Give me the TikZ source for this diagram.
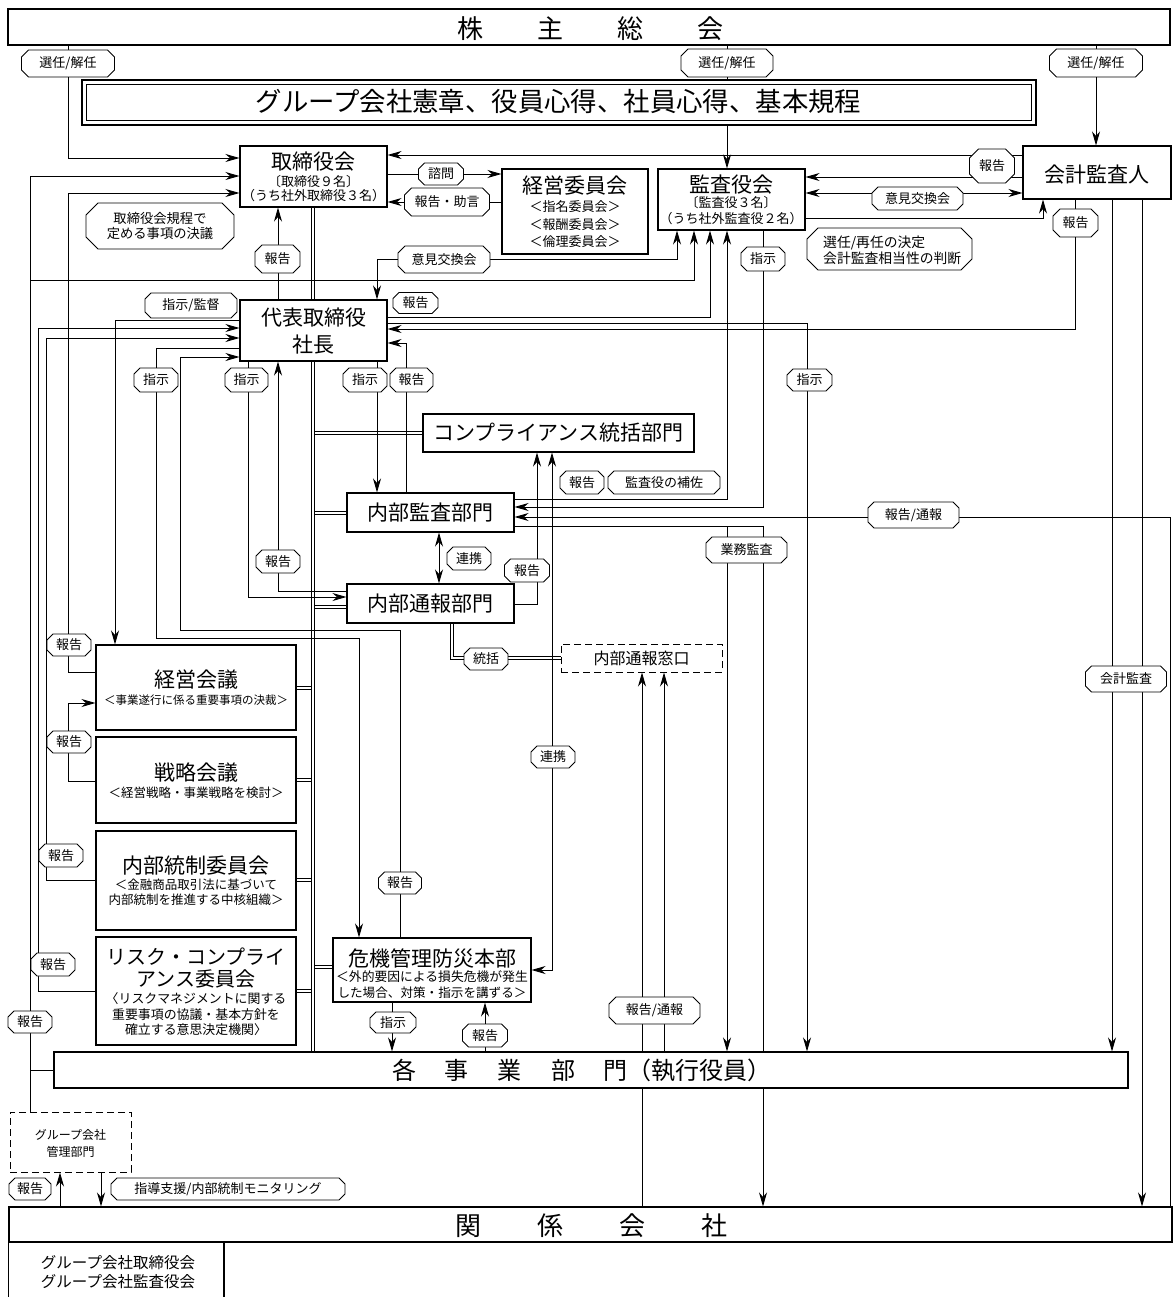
\documentclass[tikz,border=0pt]{standalone}
\usepackage{fontspec}
\setmainfont{Noto Sans CJK JP}
\usetikzlibrary{arrows.meta}
\pgfdeclarelayer{bg}
\pgfsetlayers{bg,main}
\newcommand\fs[1]{\fontsize{#1}{#1}\selectfont}
\tikzset{
  box/.style={draw, fill=white, line width=1.1pt, inner sep=0pt},
  dbox/.style={draw, fill=white, line width=1pt, dash pattern=on 7pt off 4pt, inner sep=0pt},
  ln/.style={line width=0.9pt},
  arr/.style={line width=0.9pt, -{Stealth[length=14pt,width=8pt,inset=4.5pt]}},
  arrb/.style={line width=0.9pt, {Stealth[length=14pt,width=8pt,inset=4.5pt]}-{Stealth[length=14pt,width=8pt,inset=4.5pt]}},
  dbl/.style={line width=1pt, double=white, double distance=2pt},
  txt/.style={inner sep=0pt},
  lblline/.style={draw, fill=white, line width=0.9pt},
  lbltxt/.style={inner sep=0pt, font=\fs{13}},
}
% octagon: [chamfer]{x}{y}{w}{h}
\newcommand\oct[5][6]{\filldraw[lblline] ({#2-#4/2+#1},{#3-#5/2}) -- ({#2+#4/2-#1},{#3-#5/2}) -- ({#2+#4/2},{#3-#5/2+#1}) -- ({#2+#4/2},{#3+#5/2-#1}) -- ({#2+#4/2-#1},{#3+#5/2}) -- ({#2-#4/2+#1},{#3+#5/2}) -- ({#2-#4/2},{#3+#5/2-#1}) -- ({#2-#4/2},{#3-#5/2+#1}) -- cycle;}
% label: [chamfer]{name}{x}{y}{w}{h}{text}
\newcommand\lab[7][6]{\oct[#1]{#3}{#4}{#5}{#6}\node[lbltxt] (#2) at (#3,#4) {#7};}
\begin{document}
\begin{tikzpicture}[x=1pt,y=-1pt]
\useasboundingbox (0,0) rectangle (1173,1297);
\begin{pgfonlayer}{bg}
\fill[white] (0,0) rectangle (1173,1297);
\end{pgfonlayer}
% ---------- boxes ----------
\node[box, minimum width=1162pt, minimum height=36pt] (kabu) at (589,27) {};
\node[box, minimum width=954pt, minimum height=45pt] (kitei) at (559,102.5) {};
\draw[line width=1.1pt] ([shift={(5,5)}]kitei.north west) rectangle ([shift={(-5,-5)}]kitei.south east);
\node[box, minimum width=147pt, minimum height=61pt] (tori) at (313.5,176.5) {};
\node[box, minimum width=146pt, minimum height=85pt] (keiei) at (575,211.5) {};
\node[box, minimum width=147pt, minimum height=61pt] (kansa) at (731.5,199.5) {};
\node[box, minimum width=148pt, minimum height=53pt] (kaikei) at (1097,172.5) {};
\node[box, minimum width=147pt, minimum height=61pt] (daihyo) at (313.5,330.5) {};
\node[box, minimum width=271pt, minimum height=38pt] (comp) at (558.5,433) {};
\node[box, minimum width=167pt, minimum height=39pt] (naibu) at (430.5,512.5) {};
\node[box, minimum width=167pt, minimum height=39pt] (tsuho) at (430.5,603.5) {};
\node[dbox, minimum width=161pt, minimum height=28pt] (madoguchi) at (641.5,658) {};
\node[box, minimum width=200pt, minimum height=85pt] (keieikaigi) at (196,687.5) {};
\node[box, minimum width=200pt, minimum height=86pt] (senryaku) at (196,780) {};
\node[box, minimum width=200pt, minimum height=99pt] (naiseitou) at (196,880.5) {};
\node[box, minimum width=200pt, minimum height=108pt] (risk) at (196,991) {};
\node[box, minimum width=198pt, minimum height=64pt] (kiki) at (432,970) {};
\node[box, minimum width=1074pt, minimum height=36pt] (jigyo) at (591,1070) {};
\node[dbox, minimum width=121pt, minimum height=60pt] (group) at (70.5,1142) {};
\node[box, minimum width=1163pt, minimum height=35pt] (kankei) at (590.5,1224.5) {};
\draw[line width=1.1pt] (kankei.south west) -- (kankei.south west |- 0,1297);
\draw[line width=1.1pt] (kankei.south west -| 224,0) -- (224,1297);
% ---------- connectors (behind boxes) ----------
\begin{pgfonlayer}{bg}
% double bus from 取締役会 to 各事業部門
\draw[dbl] (tori.south -| 313,0) -- (daihyo.north -| 313,0);
\draw[dbl] (daihyo.south -| 313,0) -- (jigyo.north -| 313,0);
\draw[dbl] (315,433) -- (comp.west |- 0,433);
\draw[dbl] (315,513) -- (naibu.west |- 0,513);
\draw[dbl] (315,607) -- (tsuho.west |- 0,607);
\draw[dbl] (keieikaigi.east |- 0,688) -- (311,688);
\draw[dbl] (senryaku.east |- 0,780) -- (311,780);
\draw[dbl] (naiseitou.east |- 0,880) -- (311,880);
\draw[dbl] (risk.east |- 0,991) -- (311,991);
\draw[dbl] (315,967) -- (kiki.west |- 0,967);
\draw[dbl] (tsuho.south -| 452,0) |- (madoguchi.west);
% 選任/解任
\draw[arr] (kabu.south -| 68,0) |- (tori.west |- 0,158);
\draw[arr] (kabu.south -| 727,0) -- (kansa.north -| 727,0);
\draw[arr] (kabu.south -| 1096,0) -- (kaikei.north -| 1096,0);
% 会計監査人
\draw[arr] (kaikei.west |- 0,155) -- (tori.east |- 0,155);
\draw[arr] (kaikei.west |- 0,177) -- (kansa.east |- 0,177);
\draw[arrb] (kansa.east |- 0,193) -- (kaikei.west |- 0,193);
\draw[arr] (kansa.east |- 0,218) -| (kaikei.south -| 1043,0);
% 諮問 / 報告・助言
\draw[arr] (tori.east |- 0,174) -- (keiei.west |- 0,174);
\draw[arr] (keiei.west |- 0,202) -- (tori.east |- 0,202);
% 意見交換会
\draw[arrb] (daihyo.north -| 377,0) -- (377,259) -| (kansa.south -| 677,0);
% 報告 代表→取締役会
\draw[arr] (daihyo.north -| 278,0) -- (tori.south -| 278,0);
% far left bus
\draw[arr] (group.north -| 30,0) |- (tori.west |- 0,176);
\draw[arr] (30,280) -| (kansa.south -| 694,0);
\draw[ln] (30,1070) -- (jigyo.west |- 0,1070);
% 代表取締役 left
\draw[arr] (daihyo.west |- 0,320) -| (keieikaigi.north -| 115,0);
\draw[arr] (daihyo.west |- 0,348) -| (156,638) -| (kiki.north -| 359,0);
\draw[arr] (kiki.north -| 400.7,0) |- (180.6,630) |- (daihyo.west |- 0,357);
\draw[arr] (naiseitou.west |- 0,880) -| (46,338) -- (daihyo.west |- 0,338);
\draw[arr] (risk.west |- 0,991) -| (38,328) -- (daihyo.west |- 0,328);
\draw[arr] (keieikaigi.west |- 0,672) -| (68,193) -- (tori.west |- 0,193);
\draw[arr] (senryaku.west |- 0,781) -| (68,703) -- (keieikaigi.west |- 0,703);
% 代表取締役 bottom
\draw[arr] (daihyo.south -| 248,0) |- (tsuho.west |- 0,597);
\draw[arr] (tsuho.west |- 0,591) -| (daihyo.south -| 278,0);
\draw[arr] (daihyo.south -| 377,0) -- (naibu.north -| 377,0);
\draw[arr] (naibu.north -| 406,0) |- (daihyo.east |- 0,343);
% 代表取締役 right
\draw[arr] (daihyo.east |- 0,317) -| (kansa.south -| 710,0);
\draw[arr] (daihyo.east |- 0,323) -| (jigyo.north -| 807,0);
\draw[arr] (kaikei.south -| 1075,0) |- (daihyo.east |- 0,329);
% 内部監査部門 right
\draw[arr] (naibu.east |- 0,499) -| (kansa.south -| 727,0);
\draw[arr] (kansa.south -| 763,0) |- (naibu.east |- 0,507);
\draw[arr] (kankei.north -| 1170,0) |- (naibu.east |- 0,517);
\draw[arr] (naibu.east |- 0,526) -| (kankei.north -| 763,0);
\draw[arr] (727,526) -- (jigyo.north -| 727,0);
% 連携 / 報告
\draw[arrb] (naibu.south -| 439,0) -- (tsuho.north -| 439,0);
\draw[arr] (tsuho.east |- 0,604) -| (comp.south -| 537,0);
\draw[arrb] (kiki.east |- 0,970) -| (comp.south -| 552,0);
% 報告/通報 → 内部通報窓口
\draw[arr] (kankei.north -| 642,0) -- (madoguchi.south -| 642,0);
\draw[arr] (jigyo.north -| 664,0) -- (madoguchi.south -| 664,0);
% 会計監査
\draw[arr] (kaikei.south -| 1112,0) -- (jigyo.north -| 1112,0);
\draw[arr] (kaikei.south -| 1142,0) -- (kankei.north -| 1142,0);
% 危機管理 bottom
\draw[arr] (kiki.south -| 392,0) -- (jigyo.north -| 392,0);
\draw[arr] (jigyo.north -| 485,0) -- (kiki.south -| 485,0);
% グループ会社管理部門
\draw[arr] (kankei.north -| 60,0) -- (group.south -| 60,0);
\draw[arr] (group.south -| 101,0) -- (kankei.north -| 101,0);
\end{pgfonlayer}
% ---------- box texts ----------
\node[txt, font=\fs{26}] (kabuT) at (590.5,28.5) {株\hspace{54pt}主\hspace{54pt}総\hspace{54pt}会};
\node[txt, font=\fs{26.4}] (kiteiT) at (558.5,102) {グループ会社憲章、役員心得、社員心得、基本規程};
\node[txt, font=\fs{21}] (toriT1) at (313.5,162) {取締役会};
\node[txt, font=\fs{13}] (toriT2) at (313.5,181.5) {〔取締役９名〕};
\node[txt, font=\fs{13}] (toriT3) at (313.5,196) {（うち社外取締役３名）};
\node[txt, font=\fs{21}] (keieiT1) at (575,186) {経営委員会};
\node[txt, font=\fs{13}] (keieiT2) at (575,207) {＜指名委員会＞};
\node[txt, font=\fs{13}] (keieiT3) at (575,224.5) {＜報酬委員会＞};
\node[txt, font=\fs{13}] (keieiT4) at (575,242) {＜倫理委員会＞};
\node[txt, font=\fs{21}] (kansaT1) at (731,185) {監査役会};
\node[txt, font=\fs{13}] (kansaT2) at (731,202.5) {〔監査役３名〕};
\node[txt, font=\fs{13}] (kansaT3) at (731,219) {（うち社外監査役２名）};
\node[txt, font=\fs{21}] (kaikeiT) at (1097,175) {会計監査人};
\node[txt, font=\fs{21}] (daihyoT1) at (313.5,318) {代表取締役};
\node[txt, font=\fs{21}] (daihyoT2) at (313.5,345) {社長};
\node[txt, font=\fs{21}] (compT) at (558.5,433) {コンプライアンス統括部門};
\node[txt, font=\fs{21}] (naibuT) at (430.5,513) {内部監査部門};
\node[txt, font=\fs{21}] (tsuhoT) at (430.5,604) {内部通報部門};
\node[txt, font=\fs{16}] (madoT) at (641.5,658) {内部通報窓口};
\node[txt, font=\fs{21}] (kkT1) at (196,680) {経営会議};
\node[txt, font=\fs{11.5}] (kkT2) at (196,700.5) {＜事業遂行に係る重要事項の決裁＞};
\node[txt, font=\fs{21}] (senT1) at (196,773) {戦略会議};
\node[txt, font=\fs{12.5}] (senT2) at (196,793) {＜経営戦略・事業戦略を検討＞};
\node[txt, font=\fs{21}] (naiT1) at (196,866) {内部統制委員会};
\node[txt, font=\fs{12.5}] (naiT2) at (196,884.5) {＜金融商品取引法に基づいて};
\node[txt, font=\fs{12.5}] (naiT3) at (196,900) {内部統制を推進する中核組織＞};
\node[txt, font=\fs{20}] (riskT1) at (196,957) {リスク・コンプライ};
\node[txt, font=\fs{20}] (riskT2) at (196,979) {アンス委員会};
\node[txt, font=\fs{12.9}] (riskT3) at (196,998.5) {〈リスクマネジメントに関する};
\node[txt, font=\fs{12.9}] (riskT4) at (196,1014.5) {重要事項の協議・基本方針を};
\node[txt, font=\fs{12.9}] (riskT5) at (196,1030) {確立する意思決定機関〉};
\node[txt, font=\fs{21}] (kikiT1) at (432,958.5) {危機管理防災本部};
\node[txt, font=\fs{12.8}] (kikiT2) at (432,976.5) {＜外的要因による損失危機が発生};
\node[txt, font=\fs{12.6}] (kikiT3) at (432,993) {した場合、対策・指示を講ずる＞};
\node[txt, font=\fs{24}] (jigyoT) at (582,1070) {各\hspace{29pt}事\hspace{29pt}業\hspace{29pt}部\hspace{29pt}門（執行役員）};
\node[txt, font=\fs{12}] (groupT1) at (70.5,1135) {グループ会社};
\node[txt, font=\fs{12}] (groupT2) at (70.5,1152) {管理部門};
\node[txt, font=\fs{26}] (kankeiT) at (591.5,1226) {関\hspace{55.7pt}係\hspace{55.7pt}会\hspace{55.7pt}社};
\node[txt, font=\fs{15.5}] (cellT1) at (118,1263) {グループ会社取締役会};
\node[txt, font=\fs{15.5}] (cellT2) at (118,1282) {グループ会社監査役会};
% ---------- labels ----------
\lab[7]{Lsel1}{68}{63.5}{93}{27}{選任/解任}
\lab[7]{Lsel2}{727}{63}{92}{28}{選任/解任}
\lab[7]{Lsel3}{1096}{63}{93}{28}{選任/解任}
\lab{Lshimon}{441}{174}{45}{22}{諮問}
\lab[7]{Ljogen}{447}{202}{85}{28}{報告・助言}
\lab[7]{Liken1}{444}{259.5}{92}{27}{意見交換会}
\lab[9]{Lkk1}{992}{166}{45}{34}{報告}
\lab{Liken2}{917.5}{198.5}{91}{23}{意見交換会}
\oct[11]{889.5}{249}{165}{42}
\node[txt, font=\fs{13.8}, anchor=west] (noteB1) at (823,242.5) {選任/再任の決定};
\node[txt, font=\fs{13.8}, anchor=west] (noteB2) at (823,258.5) {会計監査相当性の判断};
\oct[12]{160}{226}{148}{46}
\node[txt, font=\fs{13.3}] (noteA1) at (160,218) {取締役会規程で};
\node[txt, font=\fs{13.3}] (noteA2) at (160,233.5) {定める事項の決議};
\lab[7]{LhT}{277.5}{259}{45}{28}{報告}
\lab{Lkantoku}{191}{305.5}{92}{25}{指示/監督}
\lab{LhK}{415.5}{303}{45}{21}{報告}
\lab{Ls1}{156}{380}{44}{24}{指示}
\lab{Ls2}{246.5}{380}{43}{24}{指示}
\lab{Ls3}{365}{380}{44}{24}{指示}
\lab{LhN}{411.5}{380}{43}{24}{報告}
\lab{LsK}{763}{259}{44}{24}{指示}
\lab[7]{LhKK}{1075.5}{223}{45}{28}{報告}
\lab{LsJ}{809.5}{380}{45}{22}{指示}
\lab{LhC}{582}{482.5}{44}{23}{報告}
\lab{Lhosa}{664}{482.5}{112}{23}{監査役の補佐}
\lab{Ltsuho1}{913.5}{515}{91}{26}{報告/通報}
\lab{Lgyomu}{746.5}{550}{81}{26}{業務監査}
\lab{LhN2}{278}{561.5}{44}{23}{報告}
\lab{Lren1}{469}{558.5}{44}{23}{連携}
\lab{LhComp}{527}{570.5}{45}{23}{報告}
\lab{Ltokatsu}{486}{659}{44}{22}{統括}
\lab{Lren2}{553}{757}{44}{22}{連携}
\lab{Lkaikei}{1126}{679}{81}{26}{会計監査}
\lab{LhKeiei}{69}{645}{44}{22}{報告}
\lab{LhSen}{69}{742}{44}{22}{報告}
\lab{LhNai}{61}{855.5}{44}{23}{報告}
\lab{LhKiki}{400}{883}{43}{22}{報告}
\lab{LhRisk}{53}{964.5}{44}{23}{報告}
\lab{LhLeft}{30}{1022}{44}{22}{報告}
\lab{LsKiki}{393}{1022.5}{46}{21}{指示}
\lab{LhKiki2}{485}{1035.5}{45}{23}{報告}
\lab[7]{Ltsuho2}{654.5}{1010.5}{91}{27}{報告/通報}
\lab{LhG}{30}{1189}{42}{22}{報告}
\lab{Lshido}{228}{1189}{234}{22}{指導支援/内部統制モニタリング}
\end{tikzpicture}
\end{document}
